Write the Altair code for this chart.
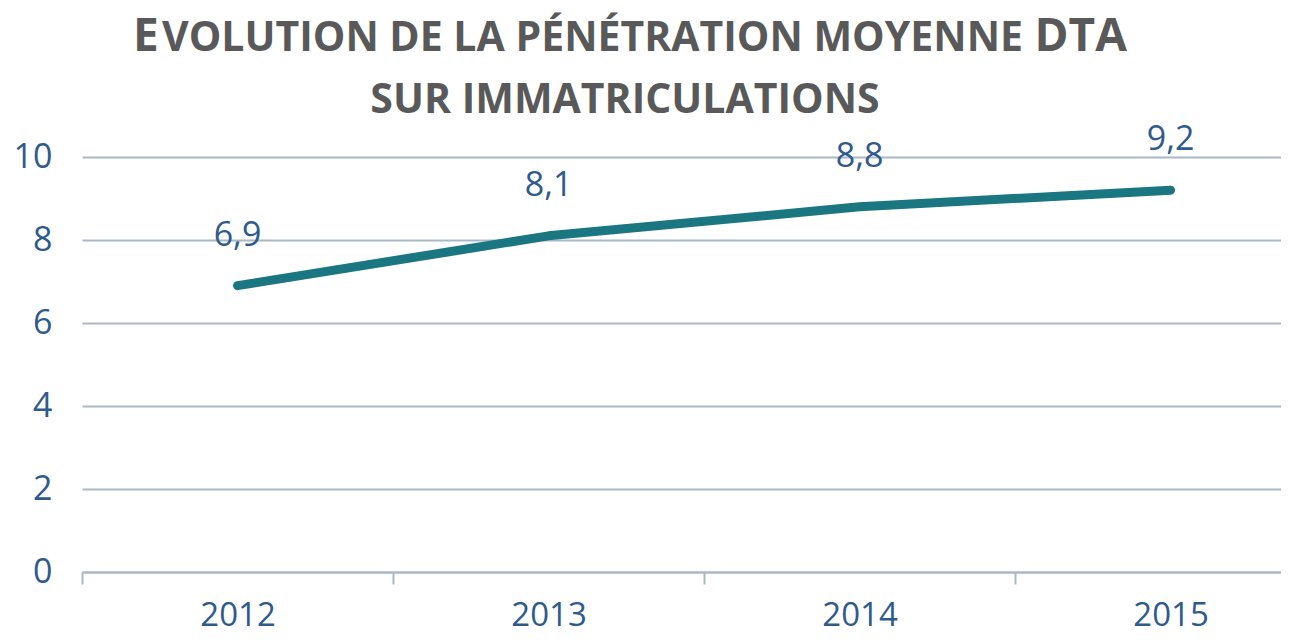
import altair as alt
import pandas as pd

years = [2012, 2013, 2014, 2015]
values = [6.9, 8.1, 8.8, 9.2]

title_first = "E"
title_mid = "VOLUTION DE LA PÉNÉTRATION MOYENNE"
title_end = "DTA"
title_line2 = "SUR IMMATRICULATIONS"

df = pd.DataFrame({"year": years, "value": values})

FONT = "Open Sans"
BLUE = "#2F5A8C"
TEAL = "#1A7782"
GRID = "#AAB7C8"
GREY = "#595959"

x_enc = alt.X(
    "year:Q",
    scale=alt.Scale(domain=[2011.5, 2015.355], nice=False, zero=False),
    axis=alt.Axis(
        values=[2011.5, 2012, 2012.5, 2013, 2013.5, 2014, 2014.5, 2015],
        labelExpr="datum.value % 1 == 0 ? '' + datum.value : ''",
        tickOpacity={"condition": {"test": "datum.value % 1 == 0", "value": 0}, "value": 1},
        tickSize=12, tickColor=GRID, tickWidth=2,
        domainColor=GRID, domainWidth=2,
        grid=False, title=None,
        labelFont=FONT, labelFontSize=33, labelColor=BLUE,
        labelPadding=15, labelFlush=False, labelOverlap=False,
    ),
)
y_enc = alt.Y(
    "value:Q",
    scale=alt.Scale(domain=[0, 10], nice=False),
    axis=alt.Axis(
        values=[0, 2, 4, 6, 8, 10],
        grid=True, gridColor=GRID, gridWidth=2,
        domain=False, ticks=False, title=None,
        labelFont=FONT, labelFontSize=34, labelColor=BLUE,
        labelPadding=30,
    ),
)

base = alt.Chart(df)
line = base.mark_line(color=TEAL, strokeWidth=9, strokeCap="round", strokeJoin="round").encode(x=x_enc, y=y_enc)
labels = base.transform_calculate(
    lab="replace(format(datum.value, '.1f'), '.', ',')"
).mark_text(font=FONT, fontSize=34, color=BLUE, dy=-50).encode(
    x=alt.X("year:Q"), y=alt.Y("value:Q"), text="lab:N"
)

tdf = pd.DataFrame({"a": [1]})
def ttext(txt, x, y, size, align):
    return alt.Chart(tdf).mark_text(
        text=txt, font=FONT, fontWeight="bold", fontSize=size, color=GREY,
        align=align, baseline="alphabetic"
    ).encode(x=alt.value(x), y=alt.value(y))

t1 = ttext(title_first, 51, -106, 46, "left")
t2 = ttext(title_mid, 80, -106, 41, "left")
t3 = ttext(title_end, 1045, -106, 46, "right")
t4 = ttext(title_line2, 543, -44, 41, "center")

chart = alt.layer(line, labels, t1, t2, t3, t4).properties(
    width=1199, height=415,
    padding={"left": 74, "top": 149, "right": 0, "bottom": 63},
    autosize="none",
).configure_view(stroke=None)

chart.save("out.html", embed_options={"renderer": "svg", "actions": False})
